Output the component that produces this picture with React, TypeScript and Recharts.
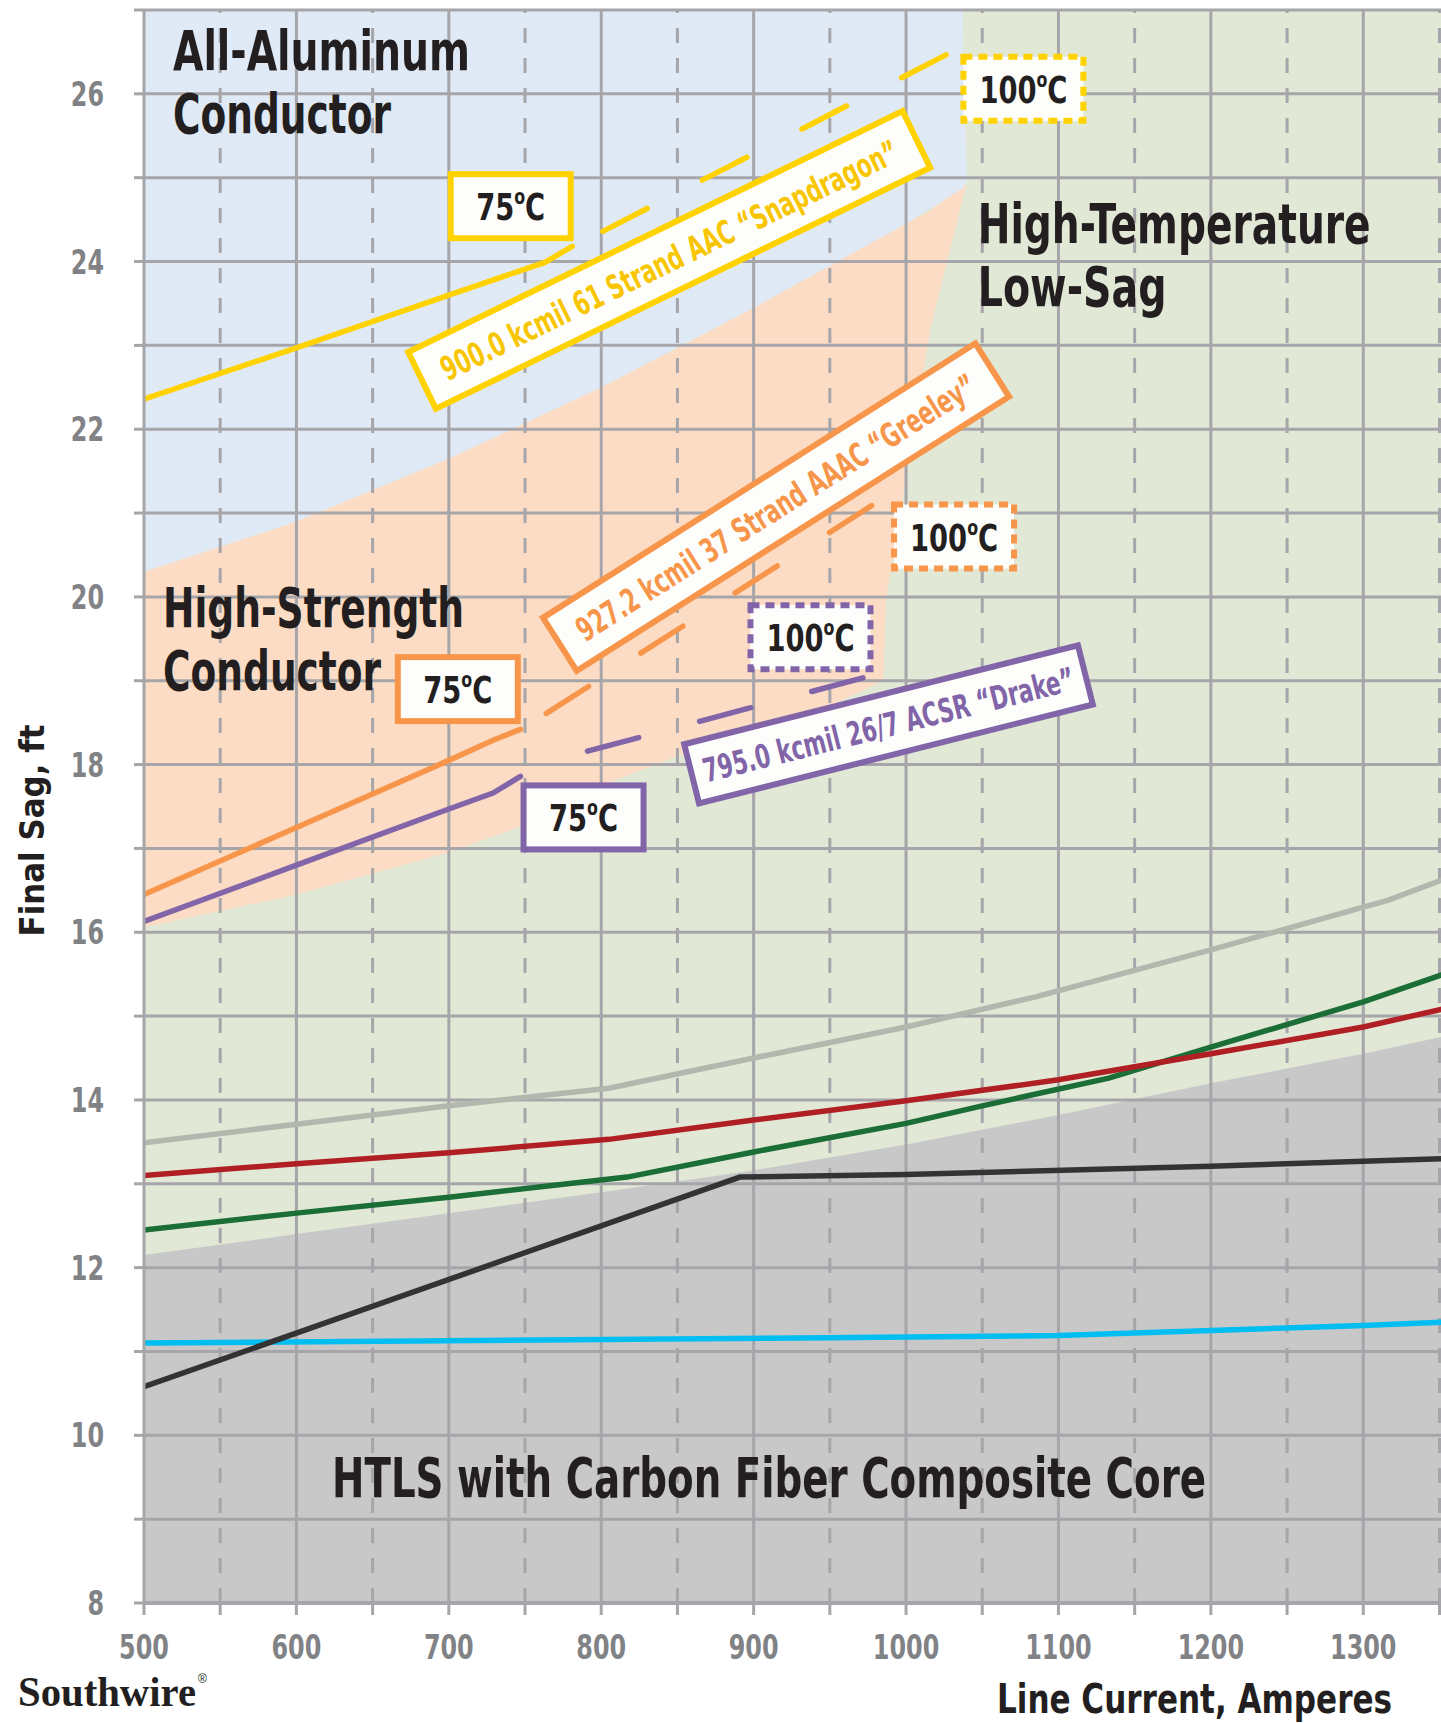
import React from 'react';
import {
  ComposedChart,
  Line,
  Area,
  XAxis,
  YAxis,
  ReferenceLine,
  ReferenceArea,
  ReferenceDot,
  Label,
} from 'recharts';

const CONDENSED = '"Liberation Sans Narrow", "DejaVu Sans Condensed", Roboto, Arial, sans-serif';

const YELLOW = '#ffd200';
const YELLOW_TEXT = '#f7c600';
const ORANGE = '#f7964a';
const PURPLE = '#8165a8';
const GRID = '#a6a6aa';
const INK = '#231f20';
const TICK_GREY = '#808285';

// axes
const xTicks = [500, 550, 600, 650, 700, 750, 800, 850, 900, 950, 1000, 1050, 1100, 1150, 1200, 1250, 1300, 1350];
const yTicks = [8, 9, 10, 11, 12, 13, 14, 15, 16, 17, 18, 19, 20, 21, 22, 23, 24, 25, 26, 27];
const xSolidGrid = [600, 700, 800, 900, 1000, 1100, 1200, 1300];
const xDashedGrid = [550, 650, 750, 850, 950, 1050, 1150, 1250, 1350];
const yGrid = [9, 10, 11, 12, 13, 14, 15, 16, 17, 18, 19, 20, 21, 22, 23, 24, 25, 26, 27];

// conductor curves: [amperes, sag ft]
const snapdragon75 = [[500, 22.36], [600, 22.97], [700, 23.6], [763, 23.99], [781, 24.18]];
const snapdragon100 = [[801, 24.36], [1030, 26.5]];
const greeley75 = [[500, 16.45], [600, 17.25], [700, 18.05], [729, 18.29], [747, 18.42]];
const greeley100 = [[764, 18.61], [981, 21.13]];
const drake75 = [[500, 16.13], [600, 16.8], [700, 17.47], [729, 17.66], [747, 17.86]];
const drake100 = [[791, 18.16], [975, 19.05]];

const htlsGrey = [[500, 13.49], [600, 13.71], [700, 13.93], [805, 14.14], [900, 14.5], [1000, 14.87], [1085, 15.23], [1200, 15.79], [1300, 16.3], [1316, 16.38], [1351, 16.62]];
const htlsRed = [[500, 13.1], [600, 13.24], [700, 13.37], [805, 13.53], [900, 13.76], [1000, 13.99], [1100, 14.24], [1200, 14.55], [1300, 14.87], [1351, 15.08]];
const htlsGreen = [[500, 12.45], [600, 12.65], [700, 12.84], [817, 13.08], [900, 13.38], [1000, 13.72], [1050, 13.93], [1133, 14.26], [1200, 14.63], [1300, 15.17], [1351, 15.49]];
const htlsBlack = [[500, 10.58], [891, 13.08], [1000, 13.11], [1200, 13.21], [1351, 13.3]];
const htlsCyan = [[500, 11.1], [930, 11.16], [1100, 11.19], [1200, 11.25], [1300, 11.31], [1351, 11.35]];

// shaded zones: [amperes, low, high]
const aluminumZone = [[500, 20.3, 27], [600, 20.9, 27], [700, 21.65, 27], [800, 22.5, 27], [900, 23.45, 27], [1000, 24.45, 27], [1037, 24.87, 27], [1040, 24.95, 24.95]];
const strengthZone = [[500, 16.06, 20.3], [600, 16.45, 20.9], [700, 16.95, 21.65], [750, 17.28, 22.07], [800, 17.75, 22.5], [850, 18.1, 22.97], [900, 18.4, 23.45], [950, 18.7, 23.95], [985, 19.0, 24.3], [987, 20.0, 24.32], [998, 21.2, 24.43], [1016, 23.2, 24.61], [1040, 24.95, 24.95]];
const carbonZone = [[500, 8, 12.15], [600, 8, 12.4], [700, 8, 12.65], [800, 8, 12.9], [900, 8, 13.16], [1000, 8, 13.47], [1100, 8, 13.82], [1200, 8, 14.2], [1300, 8, 14.55], [1351, 8, 14.75]];

// temperature tags: [amperes, sag, text, colour, dashed]
const tempTags = [
  [740.6, 24.66, '75', YELLOW, false],
  [1077, 26.06, '100', YELLOW, true],
  [705.9, 18.9, '75', ORANGE, false],
  [1031.5, 20.72, '100', ORANGE, true],
  [788.4, 17.37, '75', PURPLE, false],
  [937.3, 19.52, '100', PURPLE, true],
];

// conductor name tags
const nameTags = [
  { x: 844.6, y: 24.02, angle: -26, w: 550, h: 63, len: 505, text: '900.0 kcmil 61 Strand AAC \u201cSnapdragon\u201d', color: YELLOW, textColor: YELLOW_TEXT },
  { x: 914.7, y: 21.07, angle: -32.4, w: 512, h: 63, len: 467, text: '927.2 kcmil 37 Strand AAAC \u201cGreeley\u201d', color: ORANGE, textColor: ORANGE },
  { x: 988.5, y: 18.48, angle: -14.1, w: 406, h: 61, len: 382, text: '795.0 kcmil 26/7 ACSR \u201cDrake\u201d', color: PURPLE, textColor: PURPLE },
];

// zone titles
const zoneTitles = [
  { x: 519, y: 26.28, lines: ['All-Aluminum', 'Conductor'], lens: [297, 218] },
  { x: 1047, y: 24.22, lines: ['High-Temperature', 'Low-Sag'], lens: [393, 189] },
  { x: 512.5, y: 19.64, lines: ['High-Strength', 'Conductor'], lens: [301, 218] },
  { x: 623.4, y: 9.26, lines: ['HTLS with Carbon Fiber Composite Core'], lens: [874] },
];

const pts = (rows) => rows.map(([x, y]) => ({ x, y }));
const band = (rows) => rows.map(([x, lo, hi]) => ({ x, band: [lo, hi] }));

const TempTag = ({ cx, cy, text, color, dashed }) => (
  <g transform={`translate(${cx},${cy})`}>
    <rect x={-60} y={-32} width={120} height={64} fill="#fdfefc" stroke={color} strokeWidth={6}
      strokeDasharray={dashed ? '9 6' : undefined} />
    <g transform="scale(0.8,1)">
      <text x={0} y={14} textAnchor="middle" fontFamily={CONDENSED} fontWeight={700} fontSize={38} fill={INK}>
        {text}
        <tspan dy={-16} fontSize={22}>o</tspan>
        <tspan dy={16}>C</tspan>
      </text>
    </g>
  </g>
);

const NameTag = ({ cx, cy, tag }) => (
  <g transform={`translate(${cx},${cy}) rotate(${tag.angle})`}>
    <rect x={-tag.w / 2} y={-tag.h / 2} width={tag.w} height={tag.h} fill="#fdfefc" stroke={tag.color} strokeWidth={6} />
    <text x={0} y={12} textAnchor="middle" fontFamily={CONDENSED} fontWeight={700} fontSize={33}
      fill={tag.textColor} textLength={tag.len} lengthAdjust="spacingAndGlyphs">
      {tag.text}
    </text>
  </g>
);

const ZoneTitle = ({ cx, cy, title }) => (
  <g>
    {title.lines.map((line, i) => (
      <text key={line + i} x={cx} y={cy + i * 63} fontFamily={CONDENSED} fontWeight={700} fontSize={55}
        fill={INK} textLength={title.lens[i]} lengthAdjust="spacingAndGlyphs">
        {line}
      </text>
    ))}
  </g>
);

// narrow grey tick labels
const XTick = ({ x, y, payload }) => {
  const v = payload.value;
  if (v % 100 !== 0) return null;
  return (
    <g transform={`translate(${x},${y})`}>
      <text transform="scale(0.78,1)" textAnchor="middle" dy="0.71em" fill={TICK_GREY}
        fontFamily={CONDENSED} fontWeight={700} fontSize={34}>
        {v}
      </text>
    </g>
  );
};

const YTick = ({ x, y, payload }) => {
  const v = payload.value;
  if (v % 2 !== 0 || v > 26) return null;
  return (
    <g transform={`translate(${x},${y})`}>
      <text transform="scale(0.78,1)" textAnchor="end" dy="0.355em" fill={TICK_GREY}
        fontFamily={CONDENSED} fontWeight={700} fontSize={34}>
        {v}
      </text>
    </g>
  );
};

const lineProps = { type: 'linear', dot: false, activeDot: false, isAnimationActive: false, strokeLinecap: 'round' };

export default function App() {
  return (
    <div style={{ position: 'absolute', left: 0, top: 0, width: 1441, height: 1723, background: '#fff', overflow: 'hidden' }}>
      <ComposedChart width={1441} height={1723} margin={{ top: 10, right: 0, bottom: 0, left: 0 }}>
        <XAxis
          type="number"
          dataKey="x"
          domain={[500, 1351]}
          allowDataOverflow
          ticks={xTicks}
          interval={0}
          height={120}
          tickSize={12}
          tickMargin={20}
          tick={XTick}
          tickLine={{ stroke: GRID, strokeWidth: 3 }}
          axisLine={{ stroke: GRID, strokeWidth: 4 }}
        >
          <Label
            content={({ viewBox }) => {
              const vb = viewBox || { x: 144, y: 1603, width: 1297, height: 120 };
              return (
                <g>
                  <text x={vb.x + vb.width - 49} y={vb.y + 110} textAnchor="end" fontFamily={CONDENSED}
                    fontWeight={700} fontSize={41} fill={INK} textLength={395} lengthAdjust="spacingAndGlyphs">
                    Line Current, Amperes
                  </text>
                  <text x={18} y={vb.y + 103} fontFamily='"Liberation Serif", "DejaVu Serif", serif' fontWeight={700}
                    fontSize={42} fill={INK} textLength={178} lengthAdjust="spacingAndGlyphs">
                    Southwire
                  </text>
                  <text x={198} y={vb.y + 80} fontFamily="Arial, sans-serif" fontSize={12} fill={INK}>®</text>
                </g>
              );
            }}
          />
        </XAxis>
        <YAxis
          type="number"
          domain={[8, 27]}
          allowDataOverflow
          ticks={yTicks}
          interval={0}
          width={144}
          tickSize={10}
          tickMargin={30}
          tick={YTick}
          tickLine={{ stroke: GRID, strokeWidth: 3 }}
          axisLine={{ stroke: GRID, strokeWidth: 3 }}
        >
          <Label
            content={({ viewBox }) => {
              const vb = viewBox || { x: 0, y: 10, width: 144, height: 1593 };
              return (
                <text transform={`translate(${vb.x + 44},${vb.y + vb.height / 2 + 24}) rotate(-90)`} textAnchor="middle"
                  fontFamily={CONDENSED} fontWeight={700} fontSize={34} fill={INK} textLength={212}
                  lengthAdjust="spacingAndGlyphs">
                  Final Sag, ft
                </text>
              );
            }}
          />
        </YAxis>

        <ReferenceArea x1={500} x2={1351} y1={8} y2={27} fill="#e2e8d6" fillOpacity={1} stroke="none" ifOverflow="hidden" />
        <Area data={band(strengthZone)} dataKey="band" type="linear" fill="#fcdcc4" fillOpacity={1} stroke="none"
          dot={false} activeDot={false} isAnimationActive={false} />
        <Area data={band(aluminumZone)} dataKey="band" type="linear" fill="#dfeaf6" fillOpacity={1} stroke="none"
          dot={false} activeDot={false} isAnimationActive={false} />
        <Area data={band(carbonZone)} dataKey="band" type="linear" fill="#c8c8c9" fillOpacity={1} stroke="none"
          dot={false} activeDot={false} isAnimationActive={false} />

        {yGrid.map((v) => (
          <ReferenceLine key={'h' + v} y={v} stroke={GRID} strokeWidth={3} ifOverflow="visible" />
        ))}
        {xSolidGrid.map((v) => (
          <ReferenceLine key={'v' + v} x={v} stroke={GRID} strokeWidth={3} />
        ))}
        {xDashedGrid.map((v) => (
          <ReferenceLine key={'d' + v} x={v} stroke={GRID} strokeWidth={3} strokeDasharray="15 15" />
        ))}

        <Line data={pts(htlsCyan)} dataKey="y" stroke="#00bdf2" strokeWidth={5.5} {...lineProps} />
        <Line data={pts(htlsBlack)} dataKey="y" stroke="#333333" strokeWidth={5.5} {...lineProps} />
        <Line data={pts(htlsGreen)} dataKey="y" stroke="#1a6e36" strokeWidth={5.5} {...lineProps} />
        <Line data={pts(htlsRed)} dataKey="y" stroke="#b01f24" strokeWidth={5.5} {...lineProps} />
        <Line data={pts(htlsGrey)} dataKey="y" stroke="#b3b8ae" strokeWidth={5.5} {...lineProps} />

        <Line data={pts(drake75)} dataKey="y" stroke={PURPLE} strokeWidth={5.5} {...lineProps} />
        <Line data={pts(drake100)} dataKey="y" stroke={PURPLE} strokeWidth={5.5} strokeDasharray="53 63" {...lineProps} />
        <Line data={pts(greeley75)} dataKey="y" stroke={ORANGE} strokeWidth={5.5} {...lineProps} />
        <Line data={pts(greeley100)} dataKey="y" stroke={ORANGE} strokeWidth={5.5} strokeDasharray="50 62" {...lineProps} />
        <Line data={pts(snapdragon75)} dataKey="y" stroke={YELLOW} strokeWidth={5.5} {...lineProps} />
        <Line data={pts(snapdragon100)} dataKey="y" stroke={YELLOW} strokeWidth={5.5} strokeDasharray="50 62" {...lineProps} />

        {zoneTitles.map((t) => (
          <ReferenceDot key={t.lines[0]} x={t.x} y={t.y} ifOverflow="visible"
            shape={(p) => <ZoneTitle cx={p.cx} cy={p.cy} title={t} />} />
        ))}
        {nameTags.map((t) => (
          <ReferenceDot key={t.text} x={t.x} y={t.y} ifOverflow="visible"
            shape={(p) => <NameTag cx={p.cx} cy={p.cy} tag={t} />} />
        ))}
        {tempTags.map(([x, y, text, color, dashed]) => (
          <ReferenceDot key={String(x)} x={x} y={y} ifOverflow="visible"
            shape={(p) => <TempTag cx={p.cx} cy={p.cy} text={text} color={color} dashed={dashed} />} />
        ))}
      </ComposedChart>
    </div>
  );
}
